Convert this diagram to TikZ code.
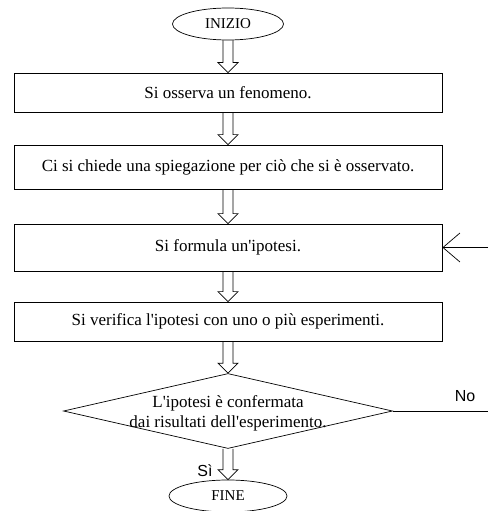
\documentclass[tikz,border=0pt]{standalone}
\usepackage{fontspec}
\setmainfont{Liberation Serif}
\newfontfamily\labelfont{Liberation Sans}
\usetikzlibrary{shapes.geometric,arrows.meta,calc}
\newcommand{\ap}{\textquotesingle}
\tikzset{
  stepbox/.style={draw, rectangle, line width=0.8pt, minimum width=428pt,
    font=\fontsize{17}{20}\selectfont},
  terminal/.style={draw, ellipse, line width=0.7pt, minimum height=32pt,
    font=\fontsize{15}{18}\selectfont},
  decision/.style={draw, diamond, line width=0.7pt, minimum width=329pt,
    minimum height=75pt, inner sep=0pt},
  ynlabel/.style={font=\labelfont\fontsize{16}{18}\selectfont},
  bigarrow/.style={draw, line width=0.7pt, to path={
      ($(\tikztostart)+(-5pt,0pt)$) -- ($(\tikztotarget)+(-5pt,10pt)$)
      -- ++(-5pt,0pt) -- (\tikztotarget) -- ++(10pt,10pt) -- ++(-5pt,0pt)
      -- ($(\tikztostart)+(5pt,0pt)$)}},
}
\begin{document}
\begin{tikzpicture}[x=1pt, y=1pt]
    \useasboundingbox (0,0) rectangle (488,-511);
    \node[terminal, minimum width=111pt] at (228,-24) (start) {INIZIO};
    \node[stepbox, minimum height=39pt] at (228,-92.5) (observe) {Si osserva un fenomeno.};
    \node[stepbox, minimum height=44pt] at (228,-167) (ask) {Ci si chiede una spiegazione per ciò che si è osservato.};
    \node[stepbox, minimum height=47pt] at (228,-247.5) (hypothesis) {Si formula un\ap ipotesi.};
    \node[stepbox, minimum height=39pt] at (228,-321.5) (experiment) {Si verifica l\ap ipotesi con uno o più esperimenti.};
    \node[decision] at (228,-411) (check) {};
    \node[font=\fontsize{17}{20}\selectfont, align=center] at (228,-413) (checktext) {L\ap ipotesi è confermata\\dai risultati dell\ap esperimento.};
    \node[terminal, minimum width=118pt] at (228,-496) (finish) {FINE};
    \coordinate (loopin) at (488,-247.5);
    \coordinate (noend) at (488,-411);
    \draw[bigarrow] (start.south) to (observe.north);
    \draw[bigarrow] (observe.south) to (ask.north);
    \draw[bigarrow] (ask.south) to (hypothesis.north);
    \draw[bigarrow] (hypothesis.south) to (experiment.north);
    \draw[bigarrow] (experiment.south) to (check.north);
    \draw[bigarrow] (check.south) to (finish.north);
    \draw[line width=0.7pt] (check.east) -- (noend);
    \draw[line width=0.7pt, -{Straight Barb[length=17pt, width=29pt]}] (loopin) -- (hypothesis.east);
    \node[ynlabel] at (465,-396) (nolabel) {No};
    \node[ynlabel] at (205,-471) (yeslabel) {Sì};
  \end{tikzpicture}
\end{document}
